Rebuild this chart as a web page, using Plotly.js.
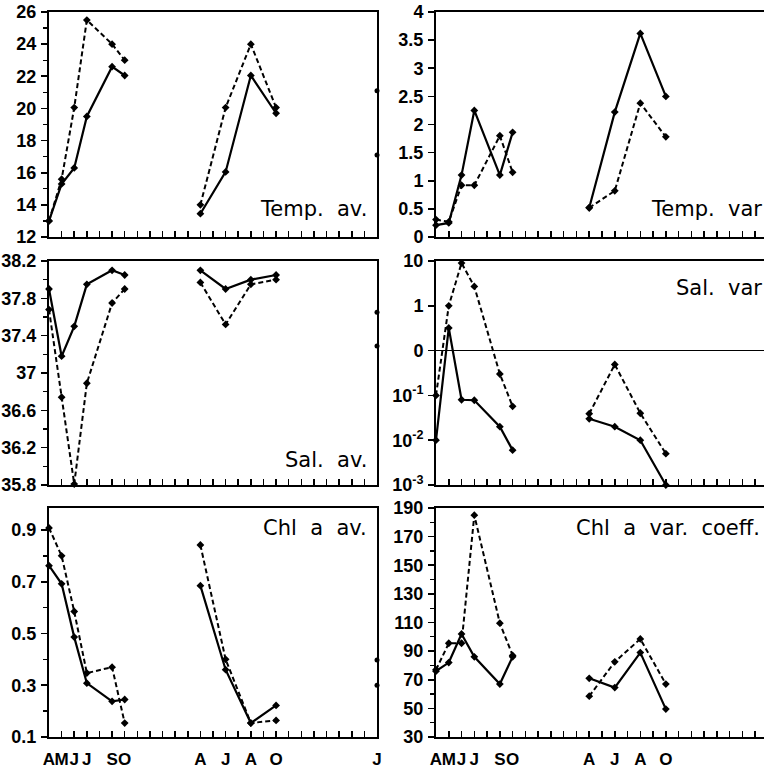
<!DOCTYPE html>
<html>
<head>
<meta charset="utf-8">
<script src="https://cdn.plot.ly/plotly-3.0.1.min.js"></script>
<style>
html,body{margin:0;padding:0;overflow:hidden;background:#fff;}
#chart{width:772px;height:774px;}
</style>
</head>
<body>
<div id="chart"></div>
<script>
// Months counted from April of year 1 (0 = A) to June of year 3 (26 = J)
const monthTicks  = [0, 1, 2, 3, 5, 6, 12, 14, 16, 18, 26];
const monthLabels = ['A','M','J','J','S','O','A','J','A','O','J'];
const period1 = [0,1,2,3,5,6];
const period2 = [12,14,16,18];
const periodEnd = [26];

// Temp. av.
const tempAvSolid1 = [13, 15.3, 16.3, 19.5, 22.6, 22.05];
const tempAvDash1  = [13, 15.6, 20.05, 25.5, 24.0, 23.0];
const tempAvSolid2 = [13.45, 16.05, 22.05, 19.7];
const tempAvDash2  = [14.0, 20.05, 24.0, 20.05];
const tempAvEnd    = [21.1, 17.1];
const tempAvTicks  = [12, 14, 16, 18, 20, 22, 24, 26];
const tempAvLabels = ['12','14','16','18','20','22','24','26'];

// Temp. var
const tempVarSolid1 = [0.21, 0.25, 1.1, 2.25, 1.1, 1.86];
const tempVarDash1  = [0.31, 0.27, 0.92, 0.92, 1.8, 1.15];
const tempVarSolid2 = [0.52, 2.22, 3.62, 2.5];
const tempVarDash2  = [0.52, 0.82, 2.38, 1.78];
const tempVarEnd    = [2.63, 1.55];
const tempVarTicks  = [0, 0.5, 1, 1.5, 2, 2.5, 3, 3.5, 4];
const tempVarLabels = ['0','0.5','1','1.5','2','2.5','3','3.5','4'];

// Sal. av.
const salAvSolid1 = [37.9, 37.18, 37.5, 37.95, 38.1, 38.05];
const salAvDash1  = [37.68, 36.74, 35.81, 36.89, 37.75, 37.9];
const salAvSolid2 = [38.1, 37.9, 38.0, 38.05];
const salAvDash2  = [37.97, 37.52, 37.95, 38.0];
const salAvEnd    = [37.65, 37.29];
const salAvTicks  = [35.8, 36.2, 36.6, 37, 37.4, 37.8, 38.2];
const salAvLabels = ['35.8','36.2','36.6','37','37.4','37.8','38.2'];

// Sal. var (log scale; labelled 10^-3 ... 10)
const salVarSolid1 = [0.01, 3.2, 0.08, 0.078, 0.02, 0.006];
const salVarDash1  = [0.1, 10, 90, 27, 0.3, 0.057];
const salVarSolid2 = [0.03, 0.02, 0.01, 0.001];
const salVarDash2  = [0.039, 0.49, 0.04, 0.005];
const salVarTicks  = [0.001, 0.01, 0.1, 1, 10, 100];
const salVarLabels = ['10<sup>-3</sup>','10<sup>-2</sup>','10<sup>-1</sup>','0','1','10'];

// Chl a av.
const chlAvSolid1 = [0.762, 0.692, 0.486, 0.308, 0.238, 0.245];
const chlAvDash1  = [0.908, 0.80, 0.585, 0.347, 0.37, 0.154];
const chlAvSolid2 = [0.685, 0.36, 0.154, 0.222];
const chlAvDash2  = [0.842, 0.40, 0.154, 0.164];
const chlAvEnd    = [0.398, 0.30];
const chlAvTicks  = [0.1, 0.3, 0.5, 0.7, 0.9];
const chlAvLabels = ['0.1','0.3','0.5','0.7','0.9'];

// Chl a var. coeff.
const chlVarSolid1 = [76, 82, 102, 86, 67, 86];
const chlVarDash1  = [77, 95.5, 95.5, 185, 109.5, 87];
const chlVarSolid2 = [71, 64.5, 89, 49.5];
const chlVarDash2  = [58.5, 82.5, 98.5, 67];
const chlVarTicks  = [30, 50, 70, 90, 110, 130, 150, 170, 190];
const chlVarLabels = ['30','50','70','90','110','130','150','170','190'];

const W = 772, H = 774;
const log10 = a => a.map(v => Math.log10(v));
const bold = a => a.map(s => '<b>' + s + '</b>');

const solidLine = {color:'#000', width:2.2};
const dashLine = {color:'#000', width:2, dash:'5px,3px'};
const mk = {symbol:'diamond', size:6, color:'#000'};

function pair(xa, ya, s1, d1, s2, d2, end, tf){
  tf = tf || (a => a);
  const t = [];
  t.push({x:period1, y:tf(s1), xaxis:xa, yaxis:ya, mode:'lines+markers', line:solidLine, marker:mk, cliponaxis:false});
  t.push({x:period1, y:tf(d1), xaxis:xa, yaxis:ya, mode:'lines+markers', line:dashLine, marker:mk, cliponaxis:false});
  t.push({x:period2, y:tf(s2), xaxis:xa, yaxis:ya, mode:'lines+markers', line:solidLine, marker:mk, cliponaxis:false});
  t.push({x:period2, y:tf(d2), xaxis:xa, yaxis:ya, mode:'lines+markers', line:dashLine, marker:mk, cliponaxis:false});
  if (end) {
    t.push({x:end.map(() => periodEnd[0]), y:tf(end), xaxis:xa, yaxis:ya, mode:'markers', marker:{symbol:'circle', size:5, color:'#000'}, cliponaxis:false});
  }
  return t;
}

const data = [].concat(
  pair('x','y', tempAvSolid1, tempAvDash1, tempAvSolid2, tempAvDash2, tempAvEnd),
  pair('x2','y2', tempVarSolid1, tempVarDash1, tempVarSolid2, tempVarDash2, tempVarEnd),
  pair('x3','y3', salAvSolid1, salAvDash1, salAvSolid2, salAvDash2, salAvEnd),
  pair('x4','y4', salVarSolid1, salVarDash1, salVarSolid2, salVarDash2, null, log10),
  pair('x5','y5', chlAvSolid1, chlAvDash1, chlAvSolid2, chlAvDash2, chlAvEnd),
  pair('x6','y6', chlVarSolid1, chlVarDash1, chlVarSolid2, chlVarDash2, null)
);

const tickFont = {family:'Liberation Sans', size:18, color:'#000'};
const xFont = {family:'Liberation Sans', size:17, color:'#000'};

const leftX = [49/W, 377/W];
const rightX = [436/W, 768/W];
const topY = [1-237/H, 1-12/H];
const midY = [1-485/H, 1-261/H];
const botY = [1-737/H, 1-508/H];

function xax(domain, anchor, labels){
  return {domain:domain, anchor:anchor, range:[0,26], tickmode:'array', tickvals:monthTicks,
    ticktext: bold(monthLabels), showticklabels: labels,
    ticks:'inside', ticklen:6, tickwidth:1.6, tickcolor:'#000', tickangle:0,
    minor:{tickmode:'linear', tick0:0, dtick:1, ticks:'inside', ticklen:6, tickwidth:1.6, tickcolor:'#000', showgrid:false},
    showline:true, mirror:true, linewidth:2, linecolor:'#000',
    showgrid:false, zeroline:false, tickfont:xFont, ticklabelstandoff:6, fixedrange:true};
}
function yax(domain, anchor, range, vals, labels, minorD, extra){
  const a = {domain:domain, anchor:anchor, range:range, tickmode:'array', tickvals:vals, ticktext:bold(labels),
    ticks:'outside', ticklen:6, tickwidth:1.6, tickcolor:'#000', tickangle:0,
    showline:true, mirror:true, linewidth:2, linecolor:'#000',
    showgrid:false, zeroline:false, tickfont:tickFont, ticklabelstandoff:1, fixedrange:true};
  if (minorD) a.minor = {tickmode:'linear', tick0:range[0], dtick:minorD, ticks:'outside', ticklen:4, tickwidth:1.3, tickcolor:'#000', showgrid:false};
  return Object.assign(a, extra || {});
}

const titleFont = {family:'DejaVu Sans, sans-serif', size:21, color:'#000'};
function ann(text, xpx, ypx){
  return {text:text, xref:'paper', yref:'paper', x:xpx/W, y:1-ypx/H, xanchor:'right', yanchor:'middle', showarrow:false, font:titleFont};
}

const layout = {
  width:W, height:H, margin:{l:0,r:0,t:0,b:0},
  paper_bgcolor:'#fff', plot_bgcolor:'#fff', showlegend:false,
  xaxis: xax(leftX,'y',false),
  xaxis2: xax(rightX,'y2',false),
  xaxis3: xax(leftX,'y3',false),
  xaxis4: xax(rightX,'y4',false),
  xaxis5: xax(leftX,'y5',true),
  xaxis6: xax(rightX,'y6',true),
  yaxis: yax(topY,'x',[12,26],tempAvTicks,tempAvLabels,1),
  yaxis2: yax(topY,'x2',[0,4],tempVarTicks,tempVarLabels,null),
  yaxis3: yax(midY,'x3',[35.8,38.2],salAvTicks,salAvLabels,0.2),
  yaxis4: yax(midY,'x4',[-3,2],log10(salVarTicks),salVarLabels,null,{zeroline:true, zerolinecolor:'#000', zerolinewidth:1.6}),
  yaxis5: yax(botY,'x5',[0.1,0.985],chlAvTicks,chlAvLabels,0.1),
  yaxis6: yax(botY,'x6',[30,190],chlVarTicks,chlVarLabels,10),
  annotations:[
    ann('Temp.\u00a0 av.', 369, 209),
    ann('Temp.\u00a0 var', 764, 209),
    ann('Sal.\u00a0 av.', 369, 460),
    ann('Sal.\u00a0 var', 764, 288),
    ann('Chl\u00a0 a\u00a0 av.', 369, 528),
    ann('Chl\u00a0 a\u00a0 var.\u00a0 coeff.', 762, 528)
  ]
};

Plotly.newPlot('chart', data, layout, {staticPlot:true, displayModeBar:false});
</script>
</body>
</html>
